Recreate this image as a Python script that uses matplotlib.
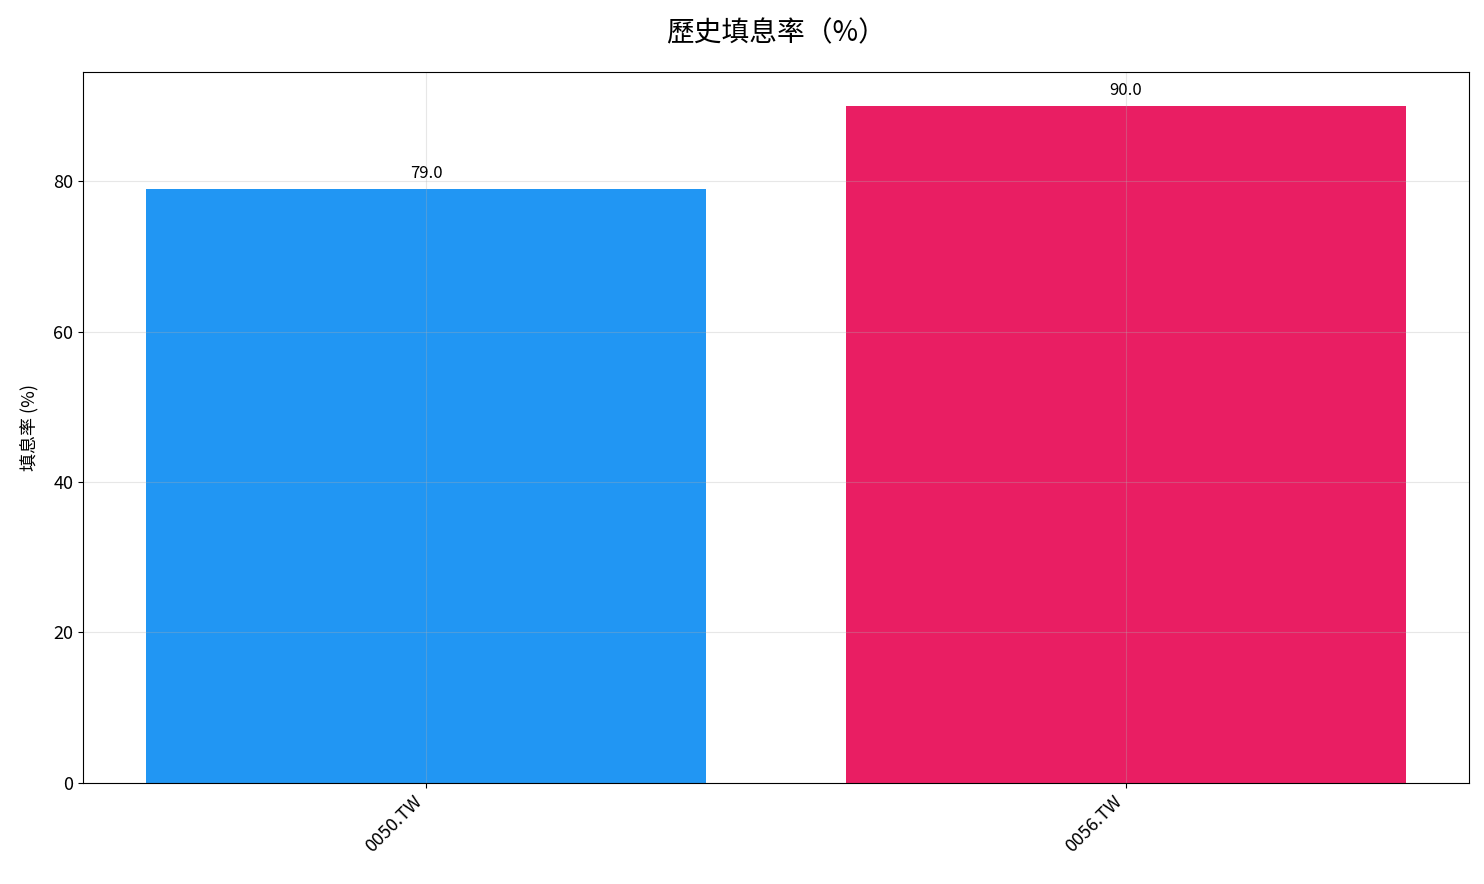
import matplotlib
matplotlib.use('Agg')
import matplotlib.pyplot as plt

plt.rcParams['font.family'] = ['Noto Sans CJK TC', 'DejaVu Sans']

tickers = ['0050.TW', '0056.TW']
fill_rates = [79.0, 90.0]
bar_colors = ['#2196F3', '#E91E63']

fig = plt.figure(figsize=(14.84, 8.84), dpi=100)
ax = fig.add_axes([0.0559, 0.1143, 0.934, 0.8043])

bars = ax.bar(tickers, fill_rates, color=bar_colors, width=0.8)
for b, v in zip(bars, fill_rates):
    ax.annotate(f'{v:.1f}', (b.get_x() + b.get_width() / 2, b.get_height()),
                xytext=(0, 5), textcoords='offset points',
                ha='center', va='bottom', fontsize=12)

ax.set_title('歷史填息率（%）', fontsize=20, pad=22, fontweight='medium')
ax.set_ylabel('填息率 (%)', fontsize=13, labelpad=10)
ax.tick_params(axis='both', labelsize=13)
plt.setp(ax.get_xticklabels(), rotation=45, ha='right')
ax.grid(True, alpha=0.3)

fig.savefig('out.png', dpi=100)
